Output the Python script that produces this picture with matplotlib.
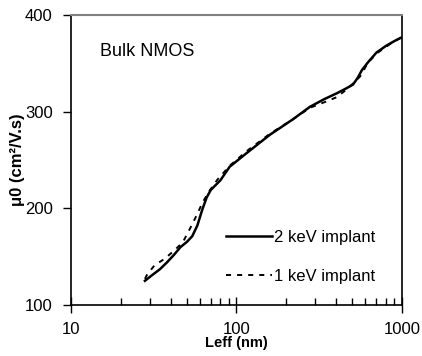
import matplotlib
matplotlib.use("Agg")
import matplotlib.pyplot as plt
from matplotlib.ticker import FixedLocator, LogLocator, NullFormatter

plt.rcParams['font.family'] = ['Liberation Sans', 'DejaVu Sans']

# mobility vs effective channel length, two implant energies
leff_2kev = [28, 31, 34.5, 38, 42, 46, 50, 54, 58, 62, 66, 70, 80, 91, 115, 159,
             219, 278, 340, 404, 460, 506, 540, 573, 623, 700, 800, 900, 1000]
mu0_2kev = [125, 131, 137, 144, 152, 160, 165, 171, 182, 198, 211, 219, 229, 243,
            257, 276, 292, 305, 313, 319, 324, 328, 335, 343, 351, 361, 368, 373, 377]

leff_1kev = [28, 29, 32, 37, 42.5, 47.5, 52.4, 57.6, 62, 68, 77, 91, 115, 159, 219,
             278, 343, 404, 471, 556, 620, 700, 800, 900, 1000]
mu0_1kev = [127, 132, 141, 148, 157, 165, 179, 193, 205, 217, 230, 244, 259, 277,
            292, 304, 310, 315, 324, 336, 350, 360, 367, 373, 377]

x_ticks = [10, 100, 1000]
y_ticks = [100, 200, 300, 400]

fig = plt.figure(figsize=(4.22, 3.56), dpi=100)
ax = fig.add_axes([0.168, 0.1433, 0.7846, 0.8147])

ax.plot(leff_2kev, mu0_2kev, color="black", lw=1.8, label="2 keV implant")
ax.plot(leff_1kev, mu0_1kev, color="black", lw=1.4, ls=(0, (2.6, 3.1)), label="1 keV implant")

ax.set_xscale("log")
ax.set_xlim(10, 1000)
ax.set_ylim(100, 400)
ax.xaxis.set_major_locator(FixedLocator(x_ticks))
ax.set_xticklabels([str(v) for v in x_ticks])
ax.xaxis.set_minor_locator(LogLocator(base=10, subs=range(2, 10)))
ax.xaxis.set_minor_formatter(NullFormatter())
ax.yaxis.set_major_locator(FixedLocator(y_ticks))

ax.tick_params(axis="x", which="major", direction="inout", length=11, width=1,
               labelsize=12, pad=7)
ax.tick_params(axis="x", which="minor", direction="in", length=5, width=1)
ax.tick_params(axis="y", which="major", direction="out", length=6, width=1,
               labelsize=12, pad=7)

ax.spines["top"].set_color("#808080")
ax.spines["top"].set_linewidth(1.5)
for side in ["left", "bottom", "right"]:
    ax.spines[side].set_color("black")
    ax.spines[side].set_linewidth(1.2)

ax.set_xlabel("Leff (nm)", fontsize=10.5, fontweight="bold", labelpad=-1)
ax.set_ylabel("μ0 (cm²/V.s)", fontsize=12, fontweight="bold", labelpad=0)

ax.text(0.088, 0.859, "Bulk NMOS", transform=ax.transAxes, fontsize=13,
        va="baseline")

ax.legend(loc="lower right", bbox_to_anchor=(0.965, 0.02), frameon=False,
          fontsize=12, handlelength=2.75, handletextpad=0.15, labelspacing=1.45)

fig.savefig("out.png", dpi=100)
